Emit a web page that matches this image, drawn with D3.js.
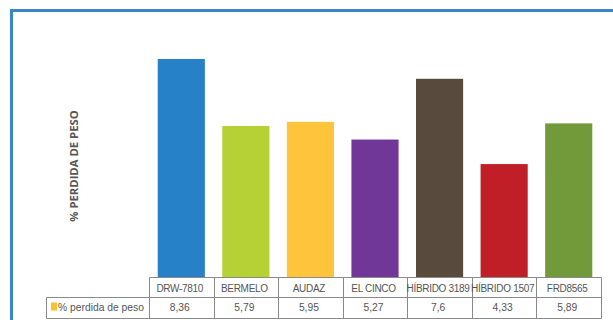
<!DOCTYPE html>
<html>
<head>
<meta charset="utf-8">
<script src="https://cdn.jsdelivr.net/npm/d3@7"></script>
<style>
  html, body { margin: 0; padding: 0; background: #fff; }
  svg { display: block; }
</style>
</head>
<body>
<svg id="chart" width="613" height="320"></svg>
<script>
// Weight-loss percentage by hybrid
const categories = ["DRW-7810", "BERMELO", "AUDAZ", "EL CINCO", "HÍBRIDO 3189", "HÍBRIDO 1507", "FRD8565"];
const values = [8.36, 5.79, 5.95, 5.27, 7.6, 4.33, 5.89];
const valueLabels = ["8,36", "5,79", "5,95", "5,27", "7,6", "4,33", "5,89"];
const barColors = ["#2781c8", "#b6d134", "#fec43b", "#703698", "#594a3e", "#c01f28", "#729a3b"];
const seriesName = "% perdida de peso";
const axisTitle = "% PERDIDA DE PESO";

const svg = d3.select("#chart");

// outer blue frame
svg.append("rect")
  .attr("x", 11.5).attr("y", 10.5)
  .attr("width", 640).attr("height", 340)
  .attr("fill", "none")
  .attr("stroke", "#3a87c8")
  .attr("stroke-width", 3);

const plotLeft = 149, plotRight = 601, plotBottom = 277, plotTop = 16.2;

const x = d3.scaleBand()
  .domain(categories)
  .range([plotLeft, plotRight])
  .paddingInner(0.27)
  .paddingOuter(0.135);

const y = d3.scaleLinear()
  .domain([0, 10])
  .range([plotBottom, plotTop]);

// bars
svg.append("g").selectAll("rect")
  .data(categories)
  .join("rect")
  .attr("x", d => x(d))
  .attr("width", x.bandwidth())
  .attr("y", (d, i) => y(values[i]))
  .attr("height", (d, i) => y(0) - y(values[i]))
  .attr("fill", (d, i) => barColors[i]);

// vertical axis title
svg.append("text")
  .attr("transform", `translate(78,166) rotate(-90)`)
  .attr("text-anchor", "middle")
  .attr("font-family", "'Open Sans', sans-serif")
  .attr("font-weight", "bold")
  .attr("font-size", 11.3)
  .attr("fill", "#575757")
  .text(axisTitle);

// data table under the plot
const rowTop = 277, rowMid = 297, rowBot = 318.5, legendLeft = 46.5;
const step = x.step();
const tbl = svg.append("g")
  .attr("stroke", "#8a8a8a")
  .attr("stroke-width", 1)
  .attr("fill", "none");

tbl.append("line").attr("x1", plotLeft + 0.5).attr("x2", plotRight + 0.5).attr("y1", rowTop + 0.5).attr("y2", rowTop + 0.5);
tbl.append("line").attr("x1", legendLeft).attr("x2", plotRight + 0.5).attr("y1", rowMid + 0.5).attr("y2", rowMid + 0.5);
tbl.append("line").attr("x1", legendLeft).attr("x2", plotRight + 0.5).attr("y1", rowBot).attr("y2", rowBot);
tbl.append("line").attr("x1", legendLeft).attr("x2", legendLeft).attr("y1", rowMid + 0.5).attr("y2", rowBot);
const vEdges = d3.range(categories.length + 1).map(i => plotLeft + i * step);
tbl.selectAll("line.v")
  .data(vEdges)
  .join("line")
  .attr("class", "v")
  .attr("x1", d => Math.round(d) + 0.5).attr("x2", d => Math.round(d) + 0.5)
  .attr("y1", rowTop + 0.5).attr("y2", rowBot);

const textStyle = (size, spacing) => sel => sel
  .attr("font-family", "'Liberation Sans', Arial, sans-serif")
  .attr("font-size", size)
  .attr("letter-spacing", spacing)
  .attr("fill", "#555");

// category names
svg.append("g").selectAll("text")
  .data(categories)
  .join("text")
  .attr("x", d => x(d) + x.bandwidth() / 2 - 1.5)
  .attr("y", rowTop + 14.5)
  .attr("text-anchor", "middle")
  .call(textStyle(10, -0.3))
  .text(d => d);

// values
svg.append("g").selectAll("text")
  .data(valueLabels)
  .join("text")
  .attr("x", (d, i) => x(categories[i]) + x.bandwidth() / 2 - 1.5)
  .attr("y", rowMid + 14)
  .attr("text-anchor", "middle")
  .call(textStyle(10.3, 0))
  .text(d => d);

// legend key
svg.append("rect")
  .attr("x", 51).attr("y", 302.5)
  .attr("width", 6).attr("height", 8)
  .attr("fill", "#fbc02d");
svg.append("text")
  .attr("x", 58).attr("y", rowMid + 14)
  .call(textStyle(10.3, 0))
  .text(seriesName);
</script>
</body>
</html>
